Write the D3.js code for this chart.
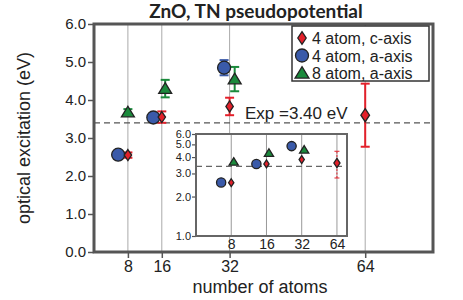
<!DOCTYPE html>
<head>
    <script src="https://d3js.org/d3.v7.min.js"></script>
    <style>
      body { margin: 0; background: #fff; }
      text { font-family: "Liberation Sans", Arial, sans-serif; fill: #222; }
    </style>
</head>

<body>
    <div id="chart"></div>
</body>

<script>

  // atoms on the x axis
  const atoms = [8, 16, 32, 64];
  const xTicks = [8, 16, 32, 64];
  const yTicks = [0, 1, 2, 3, 4, 5, 6];
  const insetYTicks = [1, 2, 3, 4, 5, 6];
  const expValue = 3.40;

  // 4 atom, c-axis (red diamonds)
  const cAxis = [2.55, 3.55, 3.83, 3.60];
  const cAxisErr = [0.07, 0.15, 0.23, 0.83];
  // 4 atom, a-axis (blue circles), drawn slightly left of the grid line
  const a4 = [2.56, 3.54, 4.85];
  const a4Err = [0.0, 0.0, 0.2];
  const a4Shift = [-2.3, -2.0, -1.3];
  // 8 atom, a-axis (green triangles)
  const a8 = [3.68, 4.30, 4.55];
  const a8Err = [0.08, 0.23, 0.32];
  const a8Shift = [0, 0.8, 1.2];

  const legendLabels = ["4 atom, c-axis", "4 atom, a-axis", "8 atom, a-axis"];

  const red = "#e3202a", blue = "#3a5aa9", green = "#1b8a3c", edge = "#222";

  const W = 463, H = 300;
  const frame = {left: 94, right: 433, top: 24, bottom: 252};
  const inset = {left: 196, right: 347, top: 134, bottom: 236};

  const svg = d3.select("#chart").append("svg")
    .attr("width", W).attr("height", H);

  const x = d3.scaleLinear().domain([0, 80]).range([frame.left, frame.right]);
  const y = d3.scaleLinear().domain([0, 6]).range([frame.bottom, frame.top]);

  const ix = d3.scaleLog().base(2).domain([4, 78]).range([inset.left, inset.right]);
  const iy = d3.scaleLog().domain([1, 6]).range([inset.bottom, inset.top]);

  // markers
  function diamond(s) { return `M0,${-1.5*s}L${s},0L0,${1.5*s}L${-s},0Z`; }
  function triangle(s) { return `M0,${-s}L${s*1.1},${s*0.8}L${-s*1.1},${s*0.8}Z`; }

  // Title
  svg.append("text")
    .attr("x", 256).attr("y", 18)
    .attr("text-anchor", "middle")
    .style("font-family", "Lato, 'Open Sans', sans-serif")
    .style("font-weight", "700")
    .style("font-size", "19px")
    .text("ZnO, TN pseudopotential");

  // grid lines
  svg.append("g").selectAll("line")
    .data(xTicks).join("line")
    .attr("x1", d => x(d)).attr("x2", d => x(d))
    .attr("y1", frame.top).attr("y2", frame.bottom)
    .attr("stroke", "#aaa").attr("stroke-width", 1);

  // Exp line
  svg.append("line")
    .attr("x1", frame.left).attr("x2", frame.right)
    .attr("y1", y(expValue)).attr("y2", y(expValue))
    .attr("stroke", "#555").attr("stroke-width", 1.2)
    .attr("stroke-dasharray", "6,4");

  svg.append("text")
    .attr("x", 245).attr("y", 119)
    .style("font-size", "17px")
    .text(`Exp =${expValue.toFixed(2)} eV`);

  // Y Axis
  const yAxis = svg.append("g")
    .attr("transform", `translate(${frame.left},0)`)
    .call(d3.axisLeft(y).tickValues(yTicks).tickFormat(d3.format(".1f")).tickSize(6).tickPadding(2));
  yAxis.select(".domain").remove();
  yAxis.selectAll("line").attr("stroke", "#555").attr("stroke-width", 1.5);
  yAxis.selectAll("text").style("font-size", "15px").attr("fill", "#222");

  // X Axis
  const xAxis = svg.append("g")
    .attr("transform", `translate(0,${frame.bottom})`)
    .call(d3.axisBottom(x).tickValues(xTicks).tickSize(6).tickPadding(3));
  xAxis.select(".domain").remove();
  xAxis.selectAll("line").attr("stroke", "#555").attr("stroke-width", 1.5);
  xAxis.selectAll("text").style("font-size", "16px").attr("fill", "#222");

  // axis labels
  svg.append("text")
    .attr("x", 260).attr("y", 293)
    .attr("text-anchor", "middle")
    .style("font-size", "18px")
    .text("number of atoms");

  svg.append("text")
    .attr("transform", `translate(30,${(frame.top + frame.bottom) / 2}) rotate(-90)`)
    .attr("text-anchor", "middle")
    .style("font-size", "18px")
    .text("optical excitation (eV)");

  // series for main plot
  const seriesMain = [
    {name: "a8", vals: a8, err: a8Err, xs: a8.map((d, i) => atoms[i] + a8Shift[i]), color: green},
    {name: "a4", vals: a4, err: a4Err, xs: a4.map((d, i) => atoms[i] + a4Shift[i]), color: blue},
    {name: "c", vals: cAxis, err: cAxisErr, xs: atoms, color: red}
  ];

  function drawErr(g, s, xs, ys, cap, sw, dash) {
    s.vals.forEach((v, i) => {
      if (!s.err[i]) return;
      const px = xs(s.xs[i]);
      const y1 = ys(v - s.err[i]), y2 = ys(v + s.err[i]);
      g.append("line").attr("x1", px).attr("x2", px).attr("y1", y1).attr("y2", y2)
        .attr("stroke", s.color).attr("stroke-width", sw).attr("stroke-dasharray", dash || null);
      [y1, y2].forEach(yy => g.append("line")
        .attr("x1", px - cap).attr("x2", px + cap).attr("y1", yy).attr("y2", yy)
        .attr("stroke", s.color).attr("stroke-width", sw));
    });
  }

  function drawMarks(g, s, xs, ys, size) {
    const sel = g.append("g").selectAll("path")
      .data(s.vals.map((v, i) => [s.xs[i], v])).join("path")
      .attr("transform", d => `translate(${xs(d[0])},${ys(d[1])})`)
      .attr("fill", s.color).attr("stroke", edge).attr("stroke-width", 1.3);
    if (s.name === "a4") sel.attr("d", d3.symbol(d3.symbolCircle, Math.PI * size * size * 1.1));
    if (s.name === "a8") sel.attr("d", triangle(size * 0.95));
    if (s.name === "c") sel.attr("d", (d, i) => diamond(size * (i === 3 ? 0.7 : 0.6)));
  }

  const main = svg.append("g");
  seriesMain.forEach(s => drawErr(main, s, x, y, 4.5, 2));
  seriesMain.forEach(s => drawMarks(main, s, x, y, 6.2));

  // frame
  svg.append("rect")
    .attr("x", frame.left).attr("y", frame.top)
    .attr("width", frame.right - frame.left).attr("height", frame.bottom - frame.top)
    .attr("fill", "none").attr("stroke", "#555").attr("stroke-width", 3);

  // Legend
  const lg = svg.append("g");
  lg.append("rect")
    .attr("x", 292).attr("y", 26).attr("width", 137).attr("height", 55)
    .attr("fill", "#fff").attr("stroke", "#333").attr("stroke-width", 1.5);
  const legSeries = [seriesMain[2], seriesMain[1], seriesMain[0]];
  legSeries.forEach((s, i) => {
    const yy = 38 + i * 17.5;
    const m = lg.append("path")
      .attr("transform", `translate(302,${yy})`)
      .attr("fill", s.color).attr("stroke", edge).attr("stroke-width", 1.3);
    if (s.name === "c") m.attr("d", diamond(4.2));
    if (s.name === "a4") m.attr("d", d3.symbol(d3.symbolCircle, Math.PI * 6.5 * 6.5));
    if (s.name === "a8") m.attr("d", triangle(6.3));
    lg.append("text").attr("x", 312).attr("y", yy + 6)
      .style("font-size", "16px").text(legendLabels[i]);
  });

  // Inset
  const ig = svg.append("g");
  ig.append("rect")
    .attr("x", inset.left).attr("y", inset.top)
    .attr("width", inset.right - inset.left).attr("height", inset.bottom - inset.top)
    .attr("fill", "#fff");

  ig.append("g").selectAll("line")
    .data(xTicks).join("line")
    .attr("x1", d => ix(d)).attr("x2", d => ix(d))
    .attr("y1", inset.top).attr("y2", inset.bottom)
    .attr("stroke", "#999").attr("stroke-width", 1);

  ig.append("line")
    .attr("x1", inset.left).attr("x2", inset.right)
    .attr("y1", iy(expValue)).attr("y2", iy(expValue))
    .attr("stroke", "#666").attr("stroke-width", 1.2)
    .attr("stroke-dasharray", "6,4");

  const iyAxis = ig.append("g")
    .attr("transform", `translate(${inset.left},0)`)
    .call(d3.axisLeft(iy).tickValues(insetYTicks).tickFormat(d3.format(".1f")).tickSize(4).tickPadding(1));
  iyAxis.select(".domain").remove();
  iyAxis.selectAll("line").attr("stroke", "#555").attr("stroke-width", 1.2);
  iyAxis.selectAll("text").style("font-size", "11px").attr("fill", "#222");

  const ixAxis = ig.append("g")
    .attr("transform", `translate(0,${inset.bottom})`)
    .call(d3.axisBottom(ix).tickValues(xTicks).tickFormat(d3.format("d")).tickSize(0).tickPadding(3));
  ixAxis.select(".domain").remove();
  ixAxis.selectAll("text").style("font-size", "14px").attr("fill", "#222");

  // inset series: same values, small nudges instead of shifts
  const nudge = {a4: 0.82, a8: 1.05, c: 1};
  const seriesInset = seriesMain.map(s => Object.assign({}, s, {
    xs: s.vals.map((d, i) => atoms[i] * nudge[s.name])
  }));
  const redInset = Object.assign({}, seriesInset[2], {err: cAxisErr.map((e, i) => i === 3 ? e : 0)});
  drawErr(ig, redInset, ix, iy, 2.5, 1, "2,1.5");
  seriesInset.forEach(s => drawMarks(ig, s, ix, iy, 4.4));

  ig.append("rect")
    .attr("x", inset.left).attr("y", inset.top)
    .attr("width", inset.right - inset.left).attr("height", inset.bottom - inset.top)
    .attr("fill", "none").attr("stroke", "#666").attr("stroke-width", 2);

</script>
